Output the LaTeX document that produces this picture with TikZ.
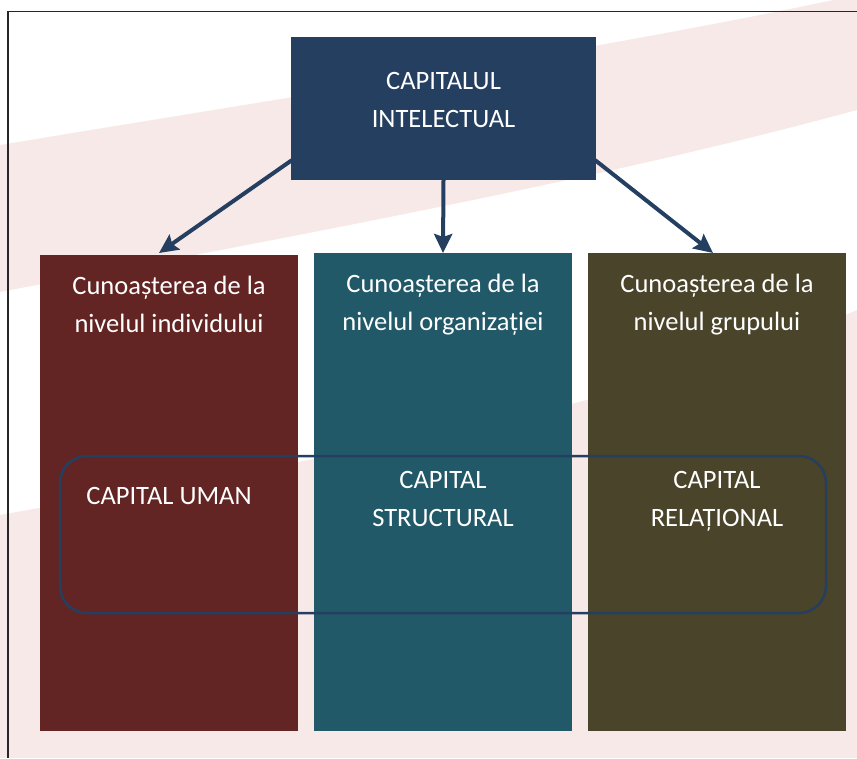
\documentclass[tikz,border=0pt]{standalone}
\usepackage{fontspec}
\setmainfont{Carlito}
\usetikzlibrary{arrows.meta,calc}
\definecolor{navy}{RGB}{37,63,97}
\definecolor{wine}{RGB}{99,37,35}
\definecolor{tealbox}{RGB}{33,89,104}
\definecolor{olivebox}{RGB}{74,68,42}
\definecolor{wmpink}{RGB}{248,233,233}
\tikzset{
  colbox/.style={rectangle, inner sep=0pt, minimum width=258pt, minimum height=476pt, anchor=north},
  boxtext/.style={text=white, align=center, anchor=base, inner sep=0pt, font=\fontsize{26.5}{37.5}\selectfont},
  link/.style={draw=navy, line width=4pt, -{Stealth[length=19pt,width=18pt,inset=3pt]}},
}
\begin{document}
\begin{tikzpicture}[x=1pt,y=-1pt]
\useasboundingbox (0,0) rectangle (857,758);
% watermark
\fill[wmpink] (0,145) .. controls (300,95) and (600,50) .. (857,-5) -- (857,110) .. controls (600,180) and (300,235) .. (0,292) -- cycle;
\fill[wmpink] (0,515) .. controls (300,460) and (600,420) .. (857,310) -- (857,758) -- (0,758) -- cycle;
% frame
\draw[line width=1.5pt, black!85] (8,758) -- (8,11.5) -- (857,11.5);
% top box
\node[rectangle, fill=navy, inner sep=0pt, minimum width=305pt, minimum height=143pt] (ic) at (443.5,108.5) {};
\node[boxtext, font=\fontsize{26.5}{38.4}\selectfont] (ictext) at (443.5,127.7) {CAPITALUL\\INTELECTUAL};
% columns
\node[colbox, fill=wine, minimum height=476pt] (lb) at (169,255) {};
\node[colbox, fill=tealbox, minimum height=478pt] (mb) at (443,253) {};
\node[colbox, fill=olivebox, minimum height=478pt] (rb) at (717,253) {};
\node[boxtext] (lbt) at (169,332) {Cunoașterea de la\\nivelul individului};
\node[boxtext] (mbt) at (443,330) {Cunoașterea de la\\nivelul organizației};
\node[boxtext] (rbt) at (717,330) {Cunoașterea de la\\nivelul grupului};
% arrows
\coordinate (s1) at ($(ic.south west)+(1,-20)$);
\coordinate (s3) at ($(ic.south east)+(-1,-20)$);
\coordinate (t1) at ($(lb.north)+(-10,-2)$);
\coordinate (t3) at ($(rb.north)+(-4,0)$);
\draw[link] (s1) -- (t1);
\draw[link] (ic.south) -- (mb.north);
\draw[link] (s3) -- (t3);
% capital frame
\node[draw=navy, line width=2.5pt, rounded corners=27pt, minimum width=766pt, minimum height=157pt, inner sep=0pt] (cap) at (443,534.5) {};
\node[boxtext] (cu) at (169,504) {CAPITAL UMAN};
\node[boxtext] (cs) at (443,526) {CAPITAL\\STRUCTURAL};
\node[boxtext] (cr) at (717,526) {CAPITAL\\RELAȚIONAL};
\end{tikzpicture}
\end{document}
